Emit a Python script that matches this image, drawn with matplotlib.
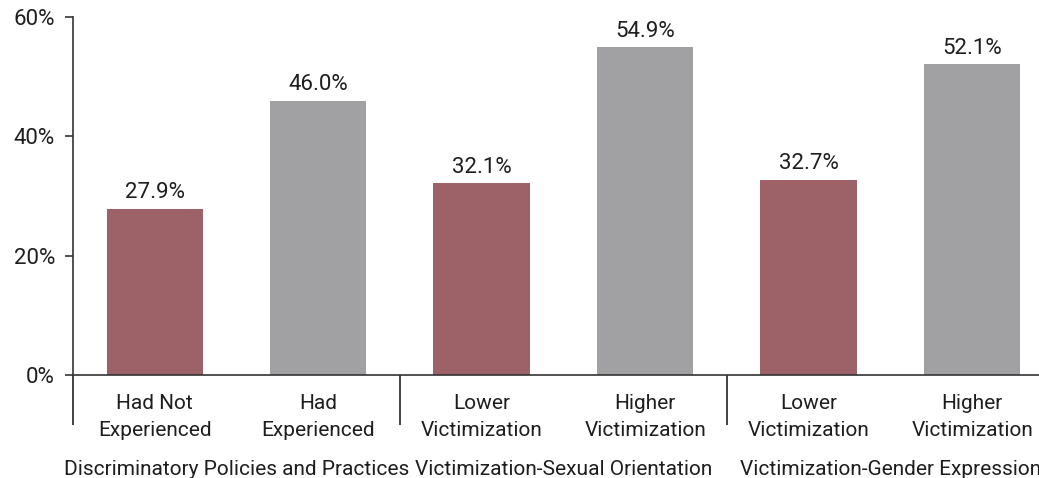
import numpy as np
import matplotlib.pyplot as plt
import matplotlib.transforms as mtransforms

plt.rcParams['font.family'] = ['Roboto', 'DejaVu Sans']

# data
bar_labels = ['Had Not\nExperienced', 'Had\nExperienced',
              'Lower\nVictimization', 'Higher\nVictimization',
              'Lower\nVictimization', 'Higher\nVictimization']
group_labels = ['Discriminatory Policies and Practices',
                'Victimization-Sexual Orientation',
                'Victimization-Gender Expression']
values = [27.9, 46.0, 32.1, 54.9, 32.7, 52.1]
yticks = [0, 20, 40, 60]

maroon = '#9d6168'
grey = '#a1a1a3'
colors = [maroon, grey] * 3
txt = '#1e1e1e'

fig = plt.figure(figsize=(10.39, 4.78), dpi=100)
ax = fig.add_axes([0.0703, 0.2155, 0.944, 0.749])

x = np.arange(len(values))
ax.bar(x, values, width=0.59, color=colors, zorder=2)
for xi, v in zip(x, values):
    ax.text(xi, v + 0.9, f'{v:.1f}%', ha='center', va='bottom',
            fontsize=16, color=txt)

ax.set_xlim(-0.5, 5.5)
ax.set_ylim(0, 60)
ax.set_yticks(yticks)
ax.set_yticklabels([f'{t}%' for t in yticks], fontsize=16, color=txt)
ax.set_xticks(x)
ax.set_xticklabels(bar_labels, fontsize=15, color=txt, linespacing=1.5)
ax.tick_params(axis='x', which='major', length=0, pad=14)
ax.tick_params(axis='y', length=6, width=1.2, color='#333333', pad=7)

# group separators as long minor ticks
ax.set_xticks([-0.5, 1.5, 3.5], minor=True)
ax.tick_params(axis='x', which='minor', length=36, width=1.3, color='#333333')

for s in ['top', 'right']:
    ax.spines[s].set_visible(False)
for s in ['left', 'bottom']:
    ax.spines[s].set_color('#333333')
    ax.spines[s].set_linewidth(1.2)

trans = mtransforms.blended_transform_factory(ax.transData, fig.transFigure)
for i, g in enumerate(group_labels):
    ax.text(2 * i + 0.5, 0.022, g, transform=trans, ha='center', va='center_baseline',
            fontsize=15, color=txt)

fig.savefig('out.png', dpi=100)
